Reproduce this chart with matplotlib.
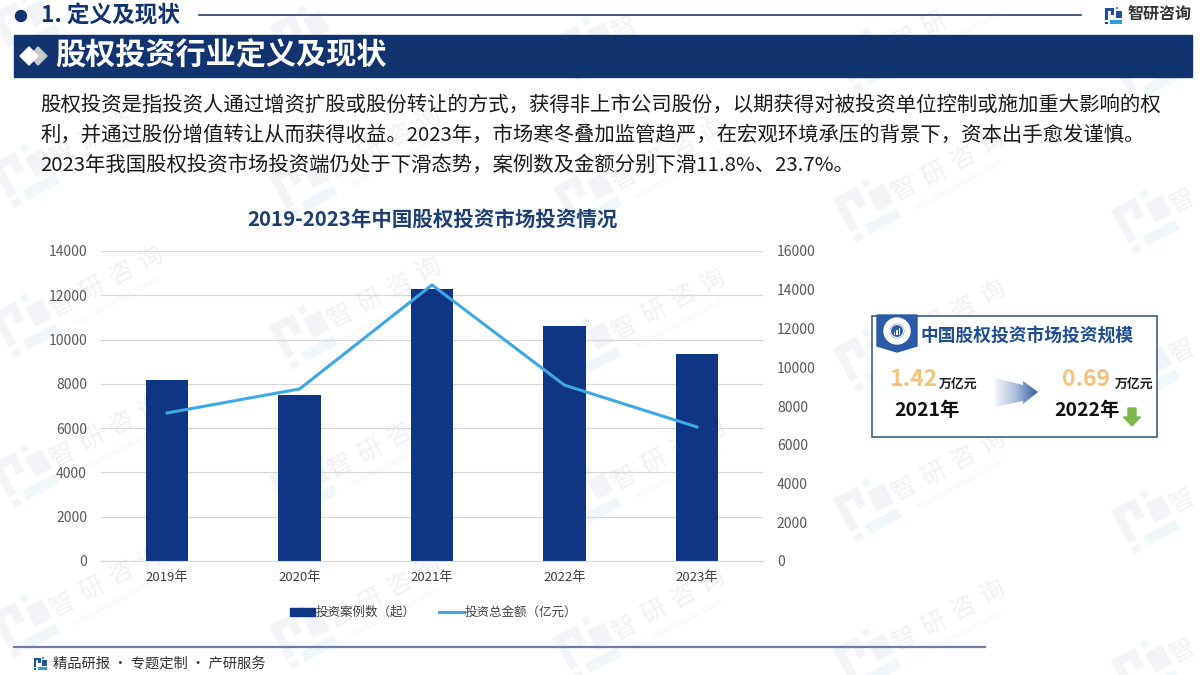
import numpy as np
import matplotlib
matplotlib.use("Agg")
import matplotlib.pyplot as plt
from matplotlib.patches import Rectangle, Polygon, Circle, FancyArrow, Wedge
from matplotlib.transforms import Affine2D

plt.rcParams['font.family'] = ['Noto Sans CJK SC', 'DejaVu Sans']

years = ['2019年', '2020年', '2021年', '2022年', '2023年']
cases = [8170, 7500, 12280, 10610, 9350]
amounts = [7640, 8880, 14250, 9080, 6920]
left_ticks = [0, 2000, 4000, 6000, 8000, 10000, 12000, 14000]
right_ticks = [0, 2000, 4000, 6000, 8000, 10000, 12000, 14000, 16000]

body_lines = [
    '股权投资是指投资人通过增资扩股或股份转让的方式，获得非上市公司股份，以期获得对被投资单位控制或施加重大影响的权',
    '利，并通过股份增值转让从而获得收益。2023年，市场寒冬叠加监管趋严，在宏观环境承压的背景下，资本出手愈发谨慎。',
    '2023年我国股权投资市场投资端仍处于下滑态势，案例数及金额分别下滑11.8%、23.7%。',
]

NAVY = '#11336f'
BAR = '#0f3585'
LINE = '#3ea8e3'
GREY = '#595959'
W, H = 1200, 675

fig = plt.figure(figsize=(12, 6.75), dpi=100, facecolor='white')

# pixel canvas for everything around the chart
bg = fig.add_axes([0, 0, 1, 1])
bg.set_xlim(0, W)
bg.set_ylim(H, 0)
bg.axis('off')


def logo(ax, x, y, s, c1='#1f4e9c', c2='#2a9fd8', z=1, angle=0):
    # x, y is the top left corner of the logo, s its size
    tr = Affine2D().rotate_deg_around(x + s / 2, y + s / 2, -angle) + ax.transData
    parts = [
        ((x, y + s * 0.05), s * 0.52, s * 0.17, c1),
        ((x, y + s * 0.05), s * 0.17, s * 0.72, c1),
        ((x + s * 0.34, y + s * 0.05), s * 0.17, s * 0.4, c1),
        ((x + s * 0.64, y), s * 0.14, s * 0.14, c2),
        ((x + s * 0.64, y + s * 0.24), s * 0.36, s * 0.42, c1),
        ((x + s * 0.3, y + s * 0.78), s * 0.7, s * 0.2, c2),
        ((x, y + s * 0.86), s * 0.17, s * 0.14, c1),
    ]
    for xy, w, h, c in parts:
        ax.add_patch(Rectangle(xy, w, h, color=c, lw=0, zorder=z, transform=tr))


# watermark, repeated across the page
wm_chars = '智研咨询'
for col, wx in enumerate([25, 303, 587, 867, 1145]):
    for k in range(-2, 3):
        wy = 323 + 11.5 * col + 150 * k
        logo(bg, wx - 26, wy - 26, 52, c1='#f3f4f8', c2='#eff7fa', z=0, angle=28)
        for i, ch in enumerate(wm_chars):
            cx, cy = wx + 38 + i * 29.3, wy - 18 - i * 15.7
            if 14 < cx < W - 14 and 18 < cy < H - 14:
                bg.text(cx, cy, ch, fontsize=18, color='#f0f1f4', rotation=28,
                        ha='center', va='center', zorder=0)
        ex, ey = wx + 92, wy - 22
        if 50 < ex < W - 50 and 30 < ey < H - 30:
            bg.text(ex, ey, 'INTELLIGENCE RESEARCH GROUP', fontsize=4.5, color='#f2f3f6',
                    rotation=28, ha='center', va='center', zorder=0)

# header
bg.add_patch(Circle((21, 16), 5.5, color=NAVY, zorder=3))
bg.text(41, 16, '1. 定义及现状', fontsize=16.3, fontweight='bold', color=NAVY, va='center', zorder=3)
bg.plot([199, 1081], [15, 15], color='#3b4c78', lw=1.3, zorder=3)
logo(bg, 1105, 7, 17, c1='#1f4e9c', c2='#2a9fd8', z=3)
bg.text(1128, 14, '智研咨询', fontsize=11.5, fontweight='bold', color='#333333', va='center', zorder=3)

# title band
bg.add_patch(Rectangle((14, 35), 1178, 42, color=NAVY, zorder=2))
bg.add_patch(Polygon([(38, 47), (47, 56), (38, 65), (30, 56)], color='#c8c8c8', zorder=3))
bg.add_patch(Polygon([(20, 56), (29, 47), (38, 56), (29, 65)], color='white', zorder=3))
bg.text(55, 56, '股权投资行业定义及现状', fontsize=21.7, fontweight='bold', color='white',
        va='center', zorder=3)

# body text
for i, line in enumerate(body_lines):
    bg.text(40, 105 + i * 30, line, fontsize=14.7, color='#1a1a1a', va='center', zorder=3)

# chart title
bg.text(432, 219, '2019-2023年中国股权投资市场投资情况', fontsize=14.75, fontweight='bold',
        color='#1f3f73', ha='center', va='center', zorder=3)

# main chart
ax = fig.add_axes([101 / W, 1 - 561 / H, 662 / W, 310 / H])
ax.patch.set_alpha(0)
ax.bar(range(5), cases, width=0.32, color=BAR, zorder=2)
ax.set_xlim(-0.5, 4.5)
ax.set_ylim(0, 14000)
ax.set_yticks(left_ticks)
ax.set_xticks(range(5))
ax.set_xticklabels(years)
ax.grid(axis='y', color='#d9d9d9', lw=0.9, zorder=0)
ax.tick_params(length=0, labelsize=10, labelcolor=GREY)
ax.tick_params(axis='y', pad=10)
ax.tick_params(axis='x', pad=7, labelcolor='#404040', labelsize=9.5)
for s in ax.spines.values():
    s.set_visible(False)
ax.spines['bottom'].set_visible(True)
ax.spines['bottom'].set_color('#d9d9d9')

ax2 = ax.twinx()
ax2.patch.set_alpha(0)
ax2.plot(range(5), amounts, color=LINE, lw=2.2, zorder=3)
ax2.set_ylim(0, 16000)
ax2.set_yticks(right_ticks)
ax2.tick_params(length=0, labelsize=10, labelcolor=GREY, pad=10)
for s in ax2.spines.values():
    s.set_visible(False)

# legend
bg.add_patch(Rectangle((290, 608), 25, 8, color=BAR, zorder=3))
bg.text(316, 612, '投资案例数（起）', fontsize=9, color='#404040', va='center', zorder=3)
bg.plot([439, 464], [612, 612], color=LINE, lw=2.2, zorder=3)
bg.text(465, 612, '投资总金额（亿元）', fontsize=9, color='#404040', va='center', zorder=3)

# side card
bg.add_patch(Rectangle((872, 316), 285, 121, fc='white', ec='#2d4f85', lw=1.1, zorder=2))
bg.add_patch(Polygon([(877, 315), (917, 315), (917, 346), (897, 352), (877, 346)],
                     color='#2b5aa6', zorder=3))
bg.add_patch(Wedge((897, 331), 13, 0, 360, width=5, color='white', zorder=4))
bg.add_patch(Circle((897, 331), 6.5, fc='#2b5aa6', ec='white', lw=0.8, zorder=4))
for bx, bh in [(893.5, 3), (896, 5), (898.5, 7)]:
    bg.add_patch(Rectangle((bx, 335 - bh), 1.8, bh, color='white', lw=0, zorder=5))
bg.text(921, 336, '中国股权投资市场投资规模', fontsize=12.75, fontweight='bold', color='#1f4f8f',
        va='center', zorder=3)
bg.text(889, 380, '1.42', fontsize=16.5, fontweight='bold', color='#f6c27a', va='center', zorder=3)
bg.text(939, 384, '万亿元', fontsize=9.3, fontweight='bold', color='#222222', va='center', zorder=3)
bg.text(894, 411, '2021年', fontsize=14, fontweight='bold', color='#111111', va='center', zorder=3)
bg.text(1062, 380, '0.69', fontsize=16.5, fontweight='bold', color='#f6c27a', va='center', zorder=3)
bg.text(1115, 384, '万亿元', fontsize=9.3, fontweight='bold', color='#222222', va='center', zorder=3)
bg.text(1054, 411, '2022年', fontsize=14, fontweight='bold', color='#111111', va='center', zorder=3)

# gradient arrow, image clipped to the arrow outline
arrow = Polygon([(995, 378), (1023, 385), (1023, 381), (1038, 392), (1023, 404), (1023, 401), (995, 407)],
                transform=bg.transData, fc='none', ec='none', zorder=3)
bg.add_patch(arrow)
shade = np.linspace(0, 1, 64).reshape(1, -1)
cmap = matplotlib.colors.LinearSegmentedColormap.from_list('fade', ['#f2f5fa', '#a9bcd9', '#2f5c9e'])
img = bg.imshow(shade, extent=(995, 1038, 407, 378), cmap=cmap, aspect='auto', zorder=3)
img.set_clip_path(arrow)
bg.set_xlim(0, W)
bg.set_ylim(H, 0)

bg.add_patch(FancyArrow(1132, 408, 0, 18, width=8, head_width=17, head_length=9,
                        length_includes_head=True, color='#7cb84a', zorder=3))

# footer
bg.plot([14, 985], [647, 647], color='#6f7da3', lw=1.6, zorder=3)
logo(bg, 34, 657, 13, z=3)
bg.text(53, 664, '精品研报 · 专题定制 · 产研服务', fontsize=10.3, color='#333333', va='center', zorder=3)

fig.savefig('out.png', dpi=100)
